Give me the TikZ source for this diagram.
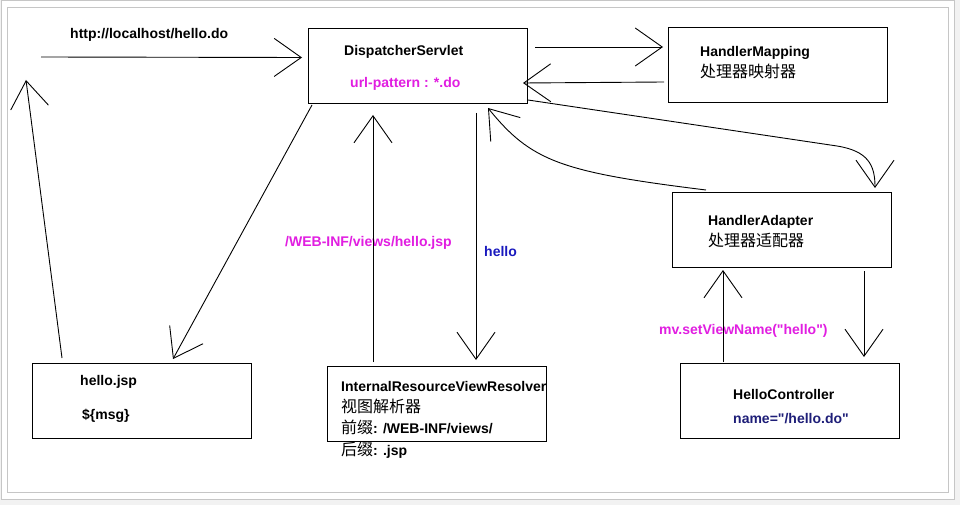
\documentclass[tikz,border=0pt]{standalone}
\usepackage{fontspec}
\setmainfont{Liberation Sans}
\newfontfamily\cjk{Noto Sans CJK SC}
\font\qfont="Liberation Sans/B" at 14pt
\newcommand\qmark{{\qfont"}}
\usetikzlibrary{arrows.meta,calc}
\definecolor{mag}{RGB}{225,30,225}
\definecolor{blue2}{RGB}{25,25,190}
\definecolor{navy2}{RGB}{30,30,120}
\begin{document}
\begin{tikzpicture}[x=1pt,y=-1pt,
  box/.style={draw, line width=1pt, minimum width=219pt, minimum height=75pt, inner sep=0pt, anchor=north west},
  lbl/.style={anchor=base west, inner sep=0pt, font=\fontsize{14}{16}\selectfont\bfseries},
  zh/.style={anchor=base west, inner sep=0pt, font=\fontsize{16}{18}\selectfont\cjk},
  link/.style={line width=0.9pt, -{Straight Barb[length=27pt,width=38pt]}}]
\fill[gray!10] (0,0) rectangle (960,505);
\draw[gray!45, fill=white] (1.5,0.5) rectangle (954.5,499.5);
\draw[gray!45] (7.5,7.5) rectangle (948.5,492.5);
\useasboundingbox (0,0) rectangle (960,505);

% boxes
\node[box] (ds) at (308,28) {};
\node[box] (hm) at (668,27) {};
\node[box] (ha) at (672,192) {};
\node[box] (hc) at (680,363) {};
\node[box] (jsp) at (32,363) {};
\node[box] (vr) at (327,366) {};

% texts
\node[lbl] (turl) at (70,39) {http://localhost/hello.do};
\node[lbl] (tds) at (344,56) {DispatcherServlet};
\node[lbl, text=mag] (tpat) at (350,88) {url-pattern : *.do};
\node[lbl] (thm) at (700,57) {HandlerMapping};
\node[zh] (thmz) at (700,78) {处理器映射器};
\node[lbl] (tha) at (708,225) {HandlerAdapter};
\node[zh] (thaz) at (708,246) {处理器适配器};
\node[lbl] (thc) at (733,399) {HelloController};
\node[lbl, text=navy2] (thcn) at (733,423) {name=\qmark/hello.do\qmark};
\node[lbl] (tjsp) at (80,385) {hello.jsp};
\node[lbl] (tmsg) at (82,419) {\$\{msg\}};
\node[lbl] (tvr) at (341,391) {InternalResourceViewResolver};
\node[zh] (tvrz) at (341,412) {视图解析器};
\node[lbl] (tpre) at (341,433) {{\cjk\mdseries\fontsize{16}{18}\selectfont 前缀}: /WEB-INF/views/};
\node[lbl] (tsuf) at (341,455) {{\cjk\mdseries\fontsize{16}{18}\selectfont 后缀}: .jsp};
\node[lbl, text=mag] (tview) at (285,246) {/WEB-INF/views/hello.jsp};
\node[lbl, text=blue2] (thello) at (484,256) {hello};
\node[lbl, text=mag] (tmv) at (659,334) {mv.setViewName(\qmark hello\qmark)};

% free ends
\coordinate (start) at (41,57);
\coordinate (back) at (26,80);

% connectors
\draw[link] (start) -- ($(ds.west)+(-6,-8.5)$);
\draw[link] ($(jsp.north west)+(30,-5)$) -- (back);
\draw[link] ($(ds.south west)+(4,1)$) -- ($(jsp.north west)+(141,-4)$);
\draw[link] ($(ds.north east)+(7,19)$) -- ($(hm.north west)+(-5,20)$);
\draw[link] ($(hm.south west)+(-4,-21)$) -- ($(ds.south east)+(-5,-21)$);
\draw[link] ($(ds.south east)+(0,-4)$) -- ($(ha.north east)+(-55,-46)$)
  .. controls ($(ha.north east)+(-24,-41)$) and ($(ha.north east)+(-17,-27)$) .. ($(ha.north east)+(-17,-4)$);
\draw[link] ($(ha.north west)+(34,-2)$)
  .. controls ($(ha.north west)+(-112,-20)$) and ($(ds.south east)+(3,57)$) .. ($(ds.south east)+(-40,4)$);
\draw[link] ($(vr.north west)+(46,-4)$) -- ($(ds.south west)+(65,11)$);
\draw[link] ($(ds.south west)+(168,9)$) -- ($(vr.north west)+(149,-6)$);
\draw[link] ($(ha.south east)+(-28,3)$) -- ($(hc.north east)+(-36,-6)$);
\draw[link] ($(hc.north west)+(43,-1)$) -- ($(ha.south west)+(51,2)$);
\end{tikzpicture}
\end{document}
